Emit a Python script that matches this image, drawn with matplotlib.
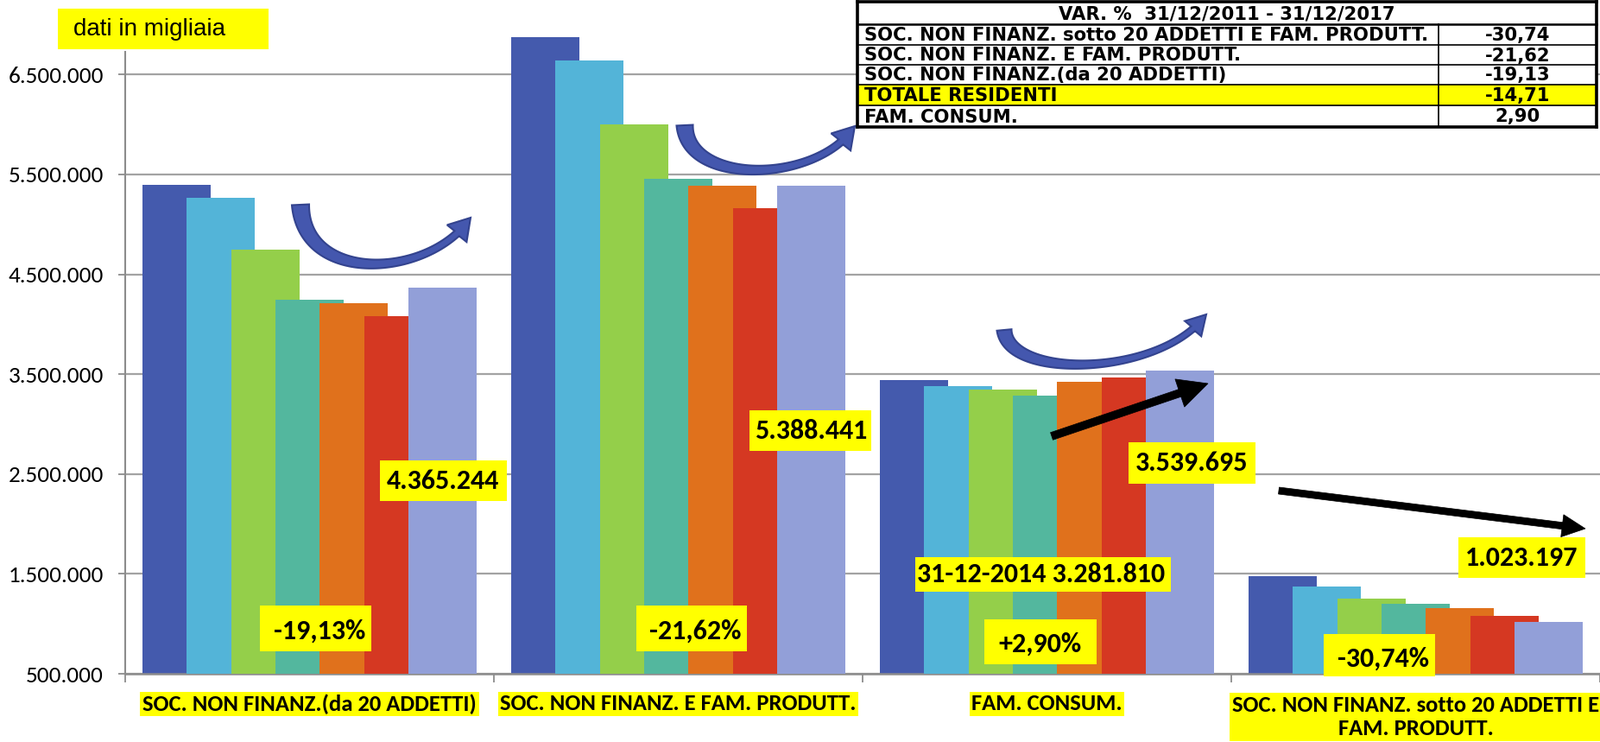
import matplotlib
matplotlib.use("Agg")
import matplotlib.pyplot as plt
import numpy as np
from matplotlib.patches import Rectangle, Polygon
from matplotlib.lines import Line2D
from matplotlib.ticker import FuncFormatter
from matplotlib import transforms
from matplotlib import font_manager as fm

# ---------------- data ----------------
categories = ["SOC. NON FINANZ.(da 20 ADDETTI)",
              "SOC. NON FINANZ. E FAM. PRODUTT.",
              "FAM. CONSUM.",
              "SOC. NON FINANZ. sotto 20 ADDETTI E\nFAM. PRODUTT."]
years = ["31-12-2011", "31-12-2012", "31-12-2013", "31-12-2014",
         "31-12-2015", "31-12-2016", "31-12-2017"]
v2011 = [5398000, 6875000, 3440000, 1477000]
v2012 = [5264000, 6642000, 3378000, 1371000]
v2013 = [4745000, 6003000, 3346000, 1253000]
v2014 = [4246000, 5456000, 3281810, 1201000]
v2015 = [4214000, 5384000, 3421000, 1160000]
v2016 = [4079000, 5163000, 3464000, 1080000]
v2017 = [4365244, 5388441, 3539695, 1023197]
series = [v2011, v2012, v2013, v2014, v2015, v2016, v2017]
yticks = [500000, 1500000, 2500000, 3500000, 4500000, 5500000, 6500000]

table_title = "VAR. %  31/12/2011 - 31/12/2017"
table_labels = ["SOC. NON FINANZ. sotto 20 ADDETTI E FAM. PRODUTT.",
                "SOC. NON FINANZ. E FAM. PRODUTT.",
                "SOC. NON FINANZ.(da 20 ADDETTI)",
                "TOTALE RESIDENTI",
                "FAM. CONSUM."]
table_values = ["-30,74", "-21,62", "-19,13", "-14,71", "2,90"]

ann_texts = ["4.365.244", "5.388.441", "3.539.695", "1.023.197",
             "31-12-2014 3.281.810", "-19,13%", "-21,62%", "+2,90%", "-30,74%"]
note_text = "dati in migliaia"

# ---------------- style ----------------
colors = ["#445AAD", "#53B4D8", "#94CF4A", "#53B79E", "#E0711C", "#D53822", "#929FD8"]
W, H, DPI = 1853, 859, 100
avail = {f.name for f in fm.fontManager.ttflist}
SANS = "Liberation Sans" if "Liberation Sans" in avail else "DejaVu Sans"
CAL = "Carlito" if "Carlito" in avail else SANS

fig = plt.figure(figsize=(W / DPI, H / DPI), dpi=DPI, facecolor="white")


def fx(x):
    return x / W


def fy(y):
    return 1 - y / H


ax = fig.add_axes([fx(145), fy(780), (W - 145) / W, 780 / H])
ax.set_facecolor("none")
ax.set_xlim(-0.5, 3.5)
ax.set_ylim(500000, 7247000)

x = np.arange(len(categories))
step, bw = 0.1206, 0.185
for k, vals in enumerate(series):
    ax.bar(x + (k - 3) * step, vals, width=bw, color=colors[k], zorder=2 + k,
           linewidth=0, label=years[k])

grid_c = "#A3A3A3"
ax.set_yticks(yticks)
ax.yaxis.set_major_formatter(FuncFormatter(lambda v, p: f"{v:,.0f}".replace(",", ".")))
ax.yaxis.grid(True, color=grid_c, lw=1.6, zorder=0)
ax.set_axisbelow(True)
ax.tick_params(axis="y", length=6, width=1.3, color="#8C8C8C", pad=12,
               labelsize=19.5)
for lab in ax.get_yticklabels():
    lab.set_fontfamily(CAL)
ax.set_xticks([-0.5, 0.5, 1.5, 2.5, 3.5])
ax.set_xticklabels([])
ax.tick_params(axis="x", length=7, width=1.3, color="#8C8C8C")
for s in ["top", "right"]:
    ax.spines[s].set_visible(False)
ax.spines["left"].set_color("#8C8C8C")
ax.spines["left"].set_linewidth(1.5)
ax.spines["left"].set_bounds(500000, 6730000)
ax.spines["bottom"].set_color("#8C8C8C")
ax.spines["bottom"].set_linewidth(1.8)

# ---------------- category labels ----------------
blend = transforms.blended_transform_factory(ax.transData, fig.transFigure)
cat_y = [815, 815, 815, 830]
cat_txts = []
for i, c in enumerate(categories):
    t = fig.text(x[i], fy(cat_y[i]), c, transform=blend, ha="center", va="center",
                 fontsize=19, fontweight="bold", family=CAL, linespacing=1.22,
                 bbox=dict(boxstyle="square,pad=0.1", fc="yellow", ec="none"),
                 zorder=10)
    cat_txts.append(t)

# ---------------- annotation boxes ----------------
ann_boxes = [(440, 533, 587, 580), (868, 475, 1009, 522), (1307, 512, 1454, 560),
             (1689, 622, 1836, 669), (1060, 645, 1356, 685), (301, 701, 430, 754),
             (737, 701, 865, 754), (1140, 717, 1270, 769), (1533, 734, 1662, 783)]
ann_pos = [(513, 557), (939, 499), (1380, 536), (1762, 646), (1206, 665),
           (370, 731), (805, 731), (1204, 746), (1602, 763)]
for txt, (x0, y0, x1, y1), (tx, ty) in zip(ann_texts, ann_boxes, ann_pos):
    fig.add_artist(Rectangle((fx(x0), fy(y1)), (x1 - x0) / W, (y1 - y0) / H,
                             transform=fig.transFigure, fc="yellow", ec="none", zorder=8))
    fig.text(fx(tx), fy(ty), txt, ha="center", va="center", fontsize=23,
             fontweight="bold", family=CAL, zorder=9)

# note box
fig.add_artist(Rectangle((fx(67), fy(57)), (311 - 67) / W, (57 - 10) / H,
                         transform=fig.transFigure, fc="yellow", ec="none", zorder=8))
fig.text(fx(85), fy(34), note_text, ha="left", va="center", fontsize=20,
         family=SANS, zorder=9)


# ---------------- arrows ----------------
def bez(P, t):
    P = np.asarray(P, float)
    t = np.asarray(t)[:, None]
    return ((1 - t) ** 3) * P[0] + 3 * ((1 - t) ** 2) * t * P[1] + 3 * (1 - t) * t ** 2 * P[2] + t ** 3 * P[3]


def arrow_poly(P, w0, w1, head_w, head_len, fc, ec, lw):
    P = np.asarray(P, float)
    ts = np.linspace(0, 1, 400)
    pts = bez(P, ts)
    tip = pts[-1]
    d = np.hypot(*(pts - tip).T)
    idx = np.where(d >= head_len)[0][-1]
    pts = pts[: idx + 1]
    tt = ts[: idx + 1] / ts[idx]
    tang = np.gradient(pts, axis=0)
    tang /= np.hypot(*tang.T)[:, None]
    nrm = np.stack([-tang[:, 1], tang[:, 0]], axis=1)
    w = w1 + (w0 - w1) * (1 - tt) ** 2
    left = pts + nrm * (w[:, None] / 2)
    right = pts - nrm * (w[:, None] / 2)
    base = pts[-1]
    dirv = (tip - base) / np.hypot(*(tip - base))
    nv = np.array([-dirv[1], dirv[0]])
    head = [base + nv * head_w / 2, tip, base - nv * head_w / 2]
    poly = np.vstack([left, head, right[::-1]])
    poly_f = np.column_stack([poly[:, 0] / W, 1 - poly[:, 1] / H])
    fig.add_artist(Polygon(poly_f, closed=True, transform=fig.transFigure,
                           fc=fc, ec=ec, lw=lw, joinstyle="miter", zorder=7))


blue_fc, blue_ec = "#4457AE", "#33438E"
arrow_poly([(348, 237), (352, 330), (498, 322), (545, 252)], 20, 8, 30, 24, blue_fc, blue_ec, 1.5)
arrow_poly([(793, 145), (796, 216), (948, 212), (990, 146)], 19, 8, 30, 24, blue_fc, blue_ec, 1.5)
arrow_poly([(1163, 382), (1168, 440), (1345, 436), (1397, 364)], 17, 7, 26, 22, blue_fc, blue_ec, 1.5)


def straight(S, E):
    S, E = np.asarray(S, float), np.asarray(E, float)
    return [S, S + (E - S) / 3, S + 2 * (E - S) / 3, E]


arrow_poly(straight((1218, 505), (1399, 444)), 9, 9, 34, 34, "black", "black", 0.5)
arrow_poly(straight((1481, 568), (1836, 612)), 8, 8, 26, 26, "black", "black", 0.5)

# ---------------- table ----------------
tx0, tx1, xcol = 993, 1849, 1666
ty = [2, 28, 52, 75, 98, 122, 147]
fig.add_artist(Rectangle((fx(tx0), fy(ty[-1])), (tx1 - tx0) / W, (ty[-1] - ty[0]) / H,
                         transform=fig.transFigure, fc="white", ec="none", zorder=11))
fig.add_artist(Rectangle((fx(tx0), fy(ty[5])), (tx1 - tx0) / W, (ty[5] - ty[4]) / H,
                         transform=fig.transFigure, fc="yellow", ec="none", zorder=11))
for i, yy in enumerate(ty):
    lw = 2.6 if i in (0, len(ty) - 1) else (1.8 if i == 1 else 1.2)
    fig.add_artist(Line2D([fx(tx0), fx(tx1)], [fy(yy), fy(yy)], transform=fig.transFigure,
                          color="black", lw=lw, zorder=12))
for xx in (tx0, tx1):
    fig.add_artist(Line2D([fx(xx), fx(xx)], [fy(ty[0]), fy(ty[-1])], transform=fig.transFigure,
                          color="black", lw=2.6, zorder=12))
fig.add_artist(Line2D([fx(xcol), fx(xcol)], [fy(ty[1]), fy(ty[-1])], transform=fig.transFigure,
                      color="black", lw=1.2, zorder=12))
TFONT = "DejaVu Sans"
tab_txts = []
t = fig.text(fx((tx0 + tx1) / 2), fy((ty[0] + ty[1]) / 2 + 1), table_title, ha="center",
             va="center", fontsize=14, fontweight="bold", family=TFONT, zorder=13)
tab_txts.append(t)
for i, (lab, val) in enumerate(zip(table_labels, table_values)):
    yc = fy((ty[i + 1] + ty[i + 2]) / 2 + 1)
    tab_txts.append(fig.text(fx(1001), yc, lab, ha="left", va="center", fontsize=14,
                             fontweight="bold", family=TFONT, zorder=13))
    tab_txts.append(fig.text(fx((xcol + tx1) / 2), yc, val, ha="center", va="center",
                             fontsize=14, fontweight="bold", family=TFONT, zorder=13))

# ---------------- fit font sizes to the reference widths ----------------
fig.canvas.draw()
r = fig.canvas.get_renderer()
w = cat_txts[0].get_window_extent(r).width
cs = cat_txts[0].get_fontsize() * 387 / w
for t in cat_txts:
    t.set_fontsize(cs)
w = tab_txts[1].get_window_extent(r).width
ts_ = tab_txts[1].get_fontsize() * 650 / w
for t in tab_txts:
    t.set_fontsize(ts_)

fig.savefig("out.png", dpi=DPI, facecolor="white")
